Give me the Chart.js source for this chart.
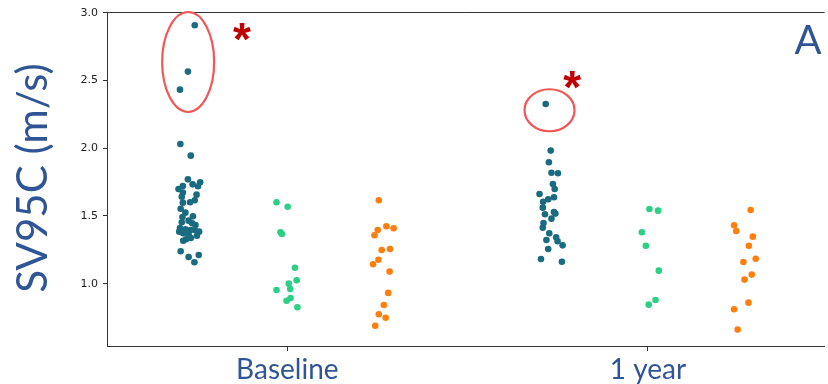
<!DOCTYPE html>
<html>
<head>
<meta charset="utf-8">
<script src="https://cdn.jsdelivr.net/npm/chart.js@4"></script>
<style>
  html, body { margin: 0; padding: 0; background: #ffffff; }
  #wrap { width: 828px; height: 384px; }
</style>
</head>
<body>
<div id="wrap"><canvas id="c" width="828" height="384"></canvas></div>
<script>
// Time points on the x axis
const timepoints = ['Baseline', '1 year'];
const yTicks = [1.0, 1.5, 2.0, 2.5, 3.0];

// Group 1 (dark teal)
const g1Baseline = [2.907, 2.565, 2.432, 2.031, 1.945, 1.770, 1.748, 1.733, 1.721, 1.699, 1.719, 1.672, 1.657, 1.642, 1.616, 1.598, 1.601, 1.553, 1.524, 1.497, 1.492, 1.465, 1.453, 1.446, 1.433, 1.411, 1.401, 1.396, 1.384, 1.396, 1.384, 1.372, 1.365, 1.354, 1.328, 1.317, 1.337, 1.239, 1.212, 1.197, 1.158];
const g1BaselineJitter = [0.010, -0.009, -0.031, -0.030, -0.001, -0.009, 0.025, 0.004, -0.023, -0.035, 0.019, -0.023, 0.015, -0.026, 0.010, -0.023, -0.003, -0.029, -0.016, 0.005, -0.024, -0.007, -0.026, 0.003, 0.012, -0.031, -0.016, -0.002, 0.022, 0.010, -0.033, -0.022, -0.007, 0.016, -0.014, -0.022, -0.001, -0.029, 0.021, -0.007, 0.009];
const g1Year1 = [2.326, 1.982, 1.896, 1.819, 1.815, 1.736, 1.699, 1.662, 1.638, 1.623, 1.605, 1.561, 1.529, 1.512, 1.517, 1.480, 1.448, 1.413, 1.372, 1.342, 1.322, 1.313, 1.283, 1.256, 1.182, 1.162];
const g1Year1Jitter = [-0.017, -0.003, -0.008, -0.001, 0.017, 0.003, 0.008, -0.034, 0.006, -0.010, -0.024, -0.025, 0.006, -0.019, 0.010, -0.001, -0.023, -0.025, -0.007, 0.012, -0.015, 0.016, 0.030, -0.010, -0.030, 0.028];

// Group 2 (green)
const g2Baseline = [1.601, 1.568, 1.379, 1.367, 1.118, 1.025, 1.000, 0.961, 0.953, 0.894, 0.874, 0.826];
const g2BaselineJitter = [-0.030, 0.001, -0.019, -0.015, 0.021, 0.026, 0.004, 0.008, -0.030, 0.009, -0.002, 0.028];
const g2Year1 = [1.551, 1.539, 1.379, 1.280, 1.096, 0.880, 0.845];
const g2Year1Jitter = [0.004, 0.028, -0.017, -0.006, 0.030, 0.021, 0.002];

// Group 3 (orange)
const g3Baseline = [1.616, 1.424, 1.409, 1.396, 1.357, 1.256, 1.249, 1.177, 1.143, 1.089, 0.932, 0.843, 0.774, 0.749, 0.690];
const g3BaselineJitter = [-0.013, 0.008, 0.028, -0.016, -0.025, 0.018, -0.005, -0.014, -0.029, 0.017, 0.013, 0.001, -0.013, 0.006, -0.023];
const g3Year1 = [1.544, 1.431, 1.389, 1.347, 1.280, 1.184, 1.160, 1.067, 1.030, 0.860, 0.811, 0.661];
const g3Year1Jitter = [0.018, -0.028, -0.022, 0.024, 0.013, 0.032, -0.002, 0.021, 0.001, 0.012, -0.028, -0.018];

const groupColors = ['#1a6b80', '#2bcf86', '#ff7f0e'];
const BLUE = '#2f5597';

// dodge: three hues share 0.8 of a category slot
const DODGE = 0.8 / 3;
function strip(hueIndex, perTime) {
  const pts = [];
  perTime.forEach(([vals, jit], t) => {
    const centre = t + (hueIndex - 1) * DODGE;
    vals.forEach((v, i) => pts.push({ x: centre + jit[i], y: v }));
  });
  return pts;
}

const datasets = [
  strip(0, [[g1Baseline, g1BaselineJitter], [g1Year1, g1Year1Jitter]]),
  strip(1, [[g2Baseline, g2BaselineJitter], [g2Year1, g2Year1Jitter]]),
  strip(2, [[g3Baseline, g3BaselineJitter], [g3Year1, g3Year1Jitter]])
].map((data, i) => ({
  data,
  backgroundColor: groupColors[i],
  borderWidth: 0,
  pointRadius: 3.3,
  pointHoverRadius: 3.3
}));

// Outlier markings: ellipses around outliers and significance stars
const marks = {
  ellipses: [
    { x: -0.275, y: 2.636, rx: 26, ry: 50 },
    { x: 0.727, y: 2.280, rx: 25, ry: 21 }
  ],
  stars: [
    { x: -0.126, y: 2.848 },
    { x: 0.790, y: 2.491 }
  ]
};

const decorations = {
  id: 'decorations',
  afterDatasetsDraw(chart) {
    const { ctx, chartArea, scales } = chart;
    const xs = scales.x, ys = scales.y;
    ctx.save();
    // top spine
    ctx.strokeStyle = '#333333';
    ctx.lineWidth = 1;
    ctx.beginPath();
    ctx.moveTo(chartArea.left, Math.round(chartArea.top) + 0.5);
    ctx.lineTo(chartArea.right, Math.round(chartArea.top) + 0.5);
    ctx.stroke();

    // ellipses
    ctx.strokeStyle = '#f25757';
    ctx.lineWidth = 2.2;
    marks.ellipses.forEach(e => {
      ctx.beginPath();
      ctx.ellipse(xs.getPixelForValue(e.x), ys.getPixelForValue(e.y), e.rx, e.ry, 0, 0, Math.PI * 2);
      ctx.stroke();
    });

    // stars
    ctx.fillStyle = '#c00000';
    ctx.font = 'bold 46px "Liberation Sans", sans-serif';
    ctx.textAlign = 'center';
    ctx.textBaseline = 'middle';
    marks.stars.forEach(s => {
      ctx.fillText('*', xs.getPixelForValue(s.x), ys.getPixelForValue(s.y) + 9);
    });

    // panel letter
    ctx.fillStyle = BLUE;
    ctx.font = '40px Lato, sans-serif';
    ctx.textAlign = 'center';
    ctx.textBaseline = 'middle';
    ctx.fillText('A', 808, 41);

    // y axis title
    ctx.translate(33, 178);
    ctx.rotate(-Math.PI / 2);
    ctx.font = '42px Lato, sans-serif';
    ctx.fillText('SV95C (m/s)', 0, 0);
    ctx.restore();
  }
};

new Chart(document.getElementById('c'), {
  type: 'scatter',
  data: { datasets },
  plugins: [decorations],
  options: {
    responsive: false,
    animation: false,
    devicePixelRatio: 1,
    layout: { padding: { top: 12, right: 0, left: 0, bottom: 0 } },
    plugins: { legend: { display: false }, tooltip: { enabled: false } },
    scales: {
      x: {
        type: 'linear',
        min: -0.5,
        max: 1.49,
        afterBuildTicks(axis) { axis.ticks = timepoints.map((_, i) => ({ value: i })); },
        afterFit(axis) { axis.height = 38; },
        ticks: {
          callback: (v) => timepoints[v],
          color: BLUE,
          font: { family: 'Lato', size: 28 },
          padding: 2,
          maxRotation: 0,
          autoSkip: false
        },
        grid: { drawOnChartArea: false, tickLength: 5, color: '#333333', tickColor: '#333333' },
        border: { color: '#333333', width: 1 }
      },
      y: {
        min: 0.54,
        max: 3.005,
        afterBuildTicks(axis) { axis.ticks = yTicks.map(v => ({ value: v })); },
        afterFit(axis) { axis.width = 107; },
        ticks: {
          callback: (v) => v.toFixed(1),
          color: '#222222',
          font: { family: 'DejaVu Sans', size: 11 },
          padding: 5
        },
        grid: { drawOnChartArea: false, tickLength: 4, color: '#333333', tickColor: '#333333' },
        border: { color: '#333333', width: 1 }
      }
    }
  }
});
</script>
</body>
</html>
